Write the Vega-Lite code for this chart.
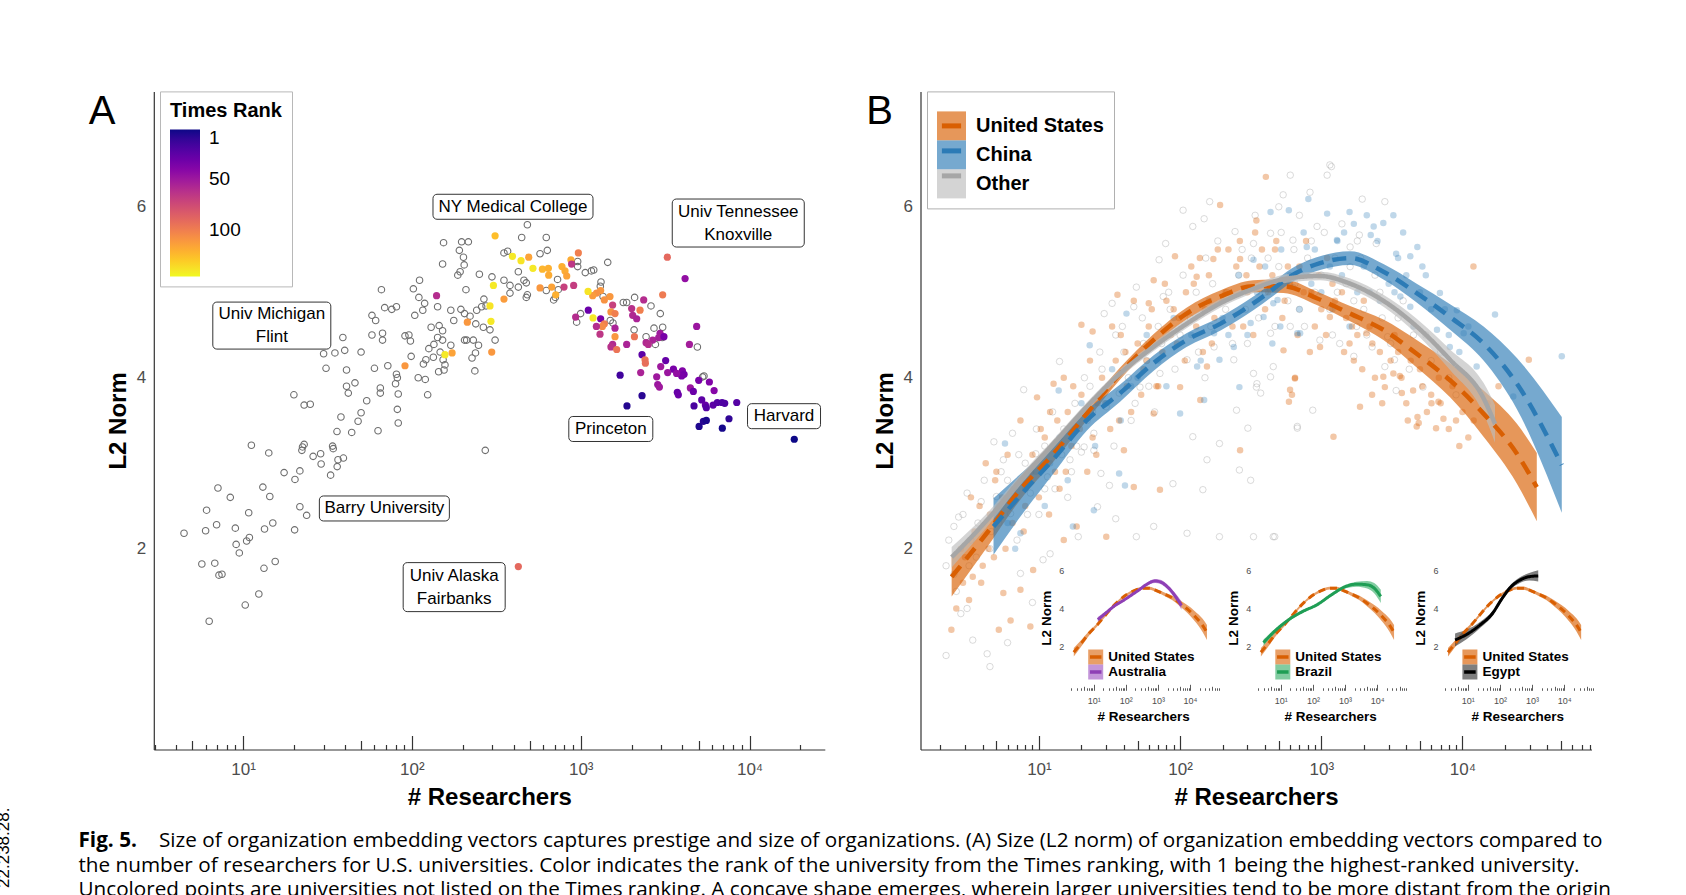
{
"$schema": "https://vega.github.io/schema/vega-lite/v6.json",
"width": 1686, "height": 895, "autosize": "none", "padding": 0, "background": "white",
"config": {"view": {"stroke": null}, "font": "Liberation Sans", "axis": {"grid": false, "labelFont": "Liberation Sans", "titleFont": "Liberation Sans"}, "legend": {"labelFont": "Liberation Sans", "titleFont": "Liberation Sans"}},
"datasets": {
"ptsA": [
{"res":4.47,"l2":2.18},{"res":6.08,"l2":2.45},{"res":6.0,"l2":2.21},{"res":6.97,"l2":2.28},{"res":7.1,"l2":2.71},{"res":8.4,"l2":2.6},{"res":5.7,"l2":1.82},{"res":6.8,"l2":1.83},{"res":7.2,"l2":1.69},{"res":7.5,"l2":1.7},{"res":9.0,"l2":2.24},{"res":9.1,"l2":2.05},{"res":9.5,"l2":1.95},{"res":10.5,"l2":2.09},{"res":10.9,"l2":2.13},{"res":10.8,"l2":2.42},{"res":6.3,"l2":1.15},{"res":10.3,"l2":1.34},{"res":12.4,"l2":1.47},{"res":13.3,"l2":1.77},{"res":15.5,"l2":1.85},{"res":13.1,"l2":2.72},{"res":14.4,"l2":2.61},{"res":13.4,"l2":2.23},{"res":15.0,"l2":2.3},{"res":20.2,"l2":2.22},{"res":21.7,"l2":2.49},{"res":23.8,"l2":2.39},{"res":17.5,"l2":2.89},{"res":20.3,"l2":2.81},{"res":21.7,"l2":2.91},{"res":11.2,"l2":3.21},{"res":14.2,"l2":3.12},{"res":22.3,"l2":3.15},{"res":23,"l2":3.22},{"res":22.5,"l2":3.19},{"res":26,"l2":3.08},{"res":28.8,"l2":3.11},{"res":29,"l2":2.99},{"res":33,"l2":2.86},{"res":34.2,"l2":3.17},{"res":33.9,"l2":3.2},{"res":36.5,"l2":3.04},{"res":39.3,"l2":3.06},{"res":36.1,"l2":2.96},{"res":272,"l2":3.15},
{"res":154,"l2":5.58},{"res":197,"l2":5.59},{"res":216,"l2":5.59},{"res":191,"l2":5.49},{"res":202,"l2":5.41},{"res":204,"l2":5.32},{"res":152,"l2":5.33},{"res":193,"l2":5.24},{"res":187,"l2":5.2},{"res":251,"l2":5.21},{"res":298,"l2":5.18},{"res":111,"l2":5.14},{"res":102,"l2":5.04},{"res":66,"l2":5.03},{"res":110,"l2":4.94},{"res":119,"l2":4.87},{"res":116,"l2":4.79},{"res":142,"l2":4.83},{"res":104,"l2":4.73},{"res":69,"l2":4.82},{"res":76,"l2":4.8},{"res":81,"l2":4.83},{"res":58,"l2":4.73},{"res":61,"l2":4.67},{"res":67,"l2":4.52},{"res":67,"l2":4.44},{"res":58,"l2":4.5},{"res":39,"l2":4.47},{"res":40,"l2":4.32},{"res":35,"l2":4.29},{"res":30,"l2":4.28},{"res":50,"l2":4.3},{"res":91,"l2":4.49},{"res":96,"l2":4.5},{"res":98,"l2":4.43},{"res":170,"l2":4.79},{"res":177,"l2":4.67},{"res":195,"l2":4.8},{"res":209,"l2":5.03},{"res":205,"l2":4.75},{"res":221,"l2":4.72},{"res":242,"l2":4.79},{"res":259,"l2":4.83},{"res":267,"l2":4.92},{"res":275,"l2":4.84},{"res":239,"l2":4.63},{"res":265,"l2":4.59},{"res":290,"l2":4.56},{"res":311,"l2":4.44},{"res":145,"l2":4.61},{"res":130,"l2":4.59},{"res":152,"l2":4.55},{"res":142,"l2":4.47},{"res":135,"l2":4.39},{"res":152,"l2":4.44},{"res":170,"l2":4.38},{"res":205,"l2":4.44},{"res":211,"l2":4.44},{"res":231,"l2":4.44},{"res":248,"l2":4.38},{"res":238,"l2":4.29},{"res":227,"l2":4.23},{"res":126,"l2":4.34},{"res":121,"l2":4.21},{"res":117,"l2":4.16},{"res":134,"l2":4.24},{"res":147,"l2":4.3},{"res":153,"l2":4.21},{"res":157,"l2":4.15},{"res":144,"l2":4.07},{"res":155,"l2":4.09},{"res":236,"l2":4.08},{"res":99,"l2":4.25},{"res":72,"l2":4.14},{"res":60,"l2":4.11},{"res":81,"l2":4.04},{"res":82,"l2":4.0},{"res":80,"l2":3.93},{"res":83,"l2":3.81},{"res":65,"l2":3.82},{"res":65,"l2":3.88},{"res":54,"l2":3.73},{"res":46,"l2":3.94},{"res":41,"l2":4.09},{"res":41,"l2":3.9},{"res":42,"l2":3.82},{"res":31,"l2":4.11},{"res":20,"l2":3.8},{"res":23,"l2":3.68},{"res":25,"l2":3.69},{"res":50,"l2":3.59},{"res":82,"l2":3.63},{"res":109,"l2":4.0},{"res":120,"l2":3.98},{"res":124,"l2":3.8},{"res":38,"l2":3.54},{"res":48,"l2":3.49},{"res":63,"l2":3.38},{"res":83,"l2":3.47},{"res":36,"l2":3.37},{"res":44,"l2":3.36},
{"res":483,"l2":5.79},{"res":447,"l2":5.64},{"res":625,"l2":5.64},{"res":634,"l2":5.49},{"res":574,"l2":5.45},{"res":369,"l2":5.48},{"res":351,"l2":5.46},{"res":959,"l2":5.36},{"res":959,"l2":5.3},{"res":1445,"l2":5.35},{"res":1064,"l2":5.23},{"res":1156,"l2":5.25},{"res":1194,"l2":5.26},{"res":427,"l2":5.24},{"res":729,"l2":5.15},{"res":461,"l2":5.14},{"res":476,"l2":5.11},{"res":427,"l2":5.06},{"res":381,"l2":5.08},{"res":351,"l2":5.14},{"res":1318,"l2":5.12},{"res":1306,"l2":5.07},{"res":625,"l2":5.02},{"res":736,"l2":5.03},{"res":707,"l2":4.94},{"res":691,"l2":4.91},{"res":483,"l2":4.97},{"res":476,"l2":4.94},{"res":381,"l2":4.99},{"res":1356,"l2":4.95},{"res":1787,"l2":4.88},{"res":1871,"l2":4.88},{"res":2085,"l2":4.94},{"res":2607,"l2":4.84},{"res":2960,"l2":4.75},{"res":998,"l2":4.75},{"res":946,"l2":4.65},{"res":1496,"l2":4.67},{"res":1552,"l2":4.64},{"res":2070,"l2":4.56},{"res":2438,"l2":4.48},{"res":2768,"l2":4.39},{"res":2716,"l2":4.58},{"res":3057,"l2":4.59},{"res":3043,"l2":4.47},{"res":4909,"l2":4.36},{"res":5272,"l2":4.01},{"res":5370,"l2":4.02},
{"res":140,"l2":4.96,"rank":60},{"res":213,"l2":4.65,"rank":110},{"res":297,"l2":4.3,"rank":110},{"res":91,"l2":4.14,"rank":110},{"res":311,"l2":5.66,"rank":125},{"res":157,"l2":4.27,"rank":140},{"res":173,"l2":4.29,"rank":115},{"res":290,"l2":4.84,"rank":138},{"res":304,"l2":5.08,"rank":140},{"res":294,"l2":4.66,"rank":140},
{"res":394,"l2":5.42,"rank":140},{"res":443,"l2":5.37,"rank":138},{"res":492,"l2":5.41,"rank":115},{"res":968,"l2":5.46,"rank":100},{"res":875,"l2":5.38,"rank":118},{"res":883,"l2":5.33,"rank":65},{"res":774,"l2":5.3,"rank":120},{"res":807,"l2":5.25,"rank":118},{"res":826,"l2":5.19,"rank":115},{"res":521,"l2":5.28,"rank":140},{"res":593,"l2":5.27,"rank":122},{"res":643,"l2":5.28,"rank":120},{"res":646,"l2":5.2,"rank":118},{"res":1312,"l2":5.02,"rank":110},{"res":1241,"l2":4.99,"rank":108},{"res":1177,"l2":4.96,"rank":112},{"res":796,"l2":5.06,"rank":70},{"res":908,"l2":5.08,"rank":68},{"res":1105,"l2":5.01,"rank":138},{"res":673,"l2":5.06,"rank":115},{"res":574,"l2":5.05,"rank":110},{"res":711,"l2":4.97,"rank":120},{"res":351,"l2":4.92,"rank":112},{"res":1490,"l2":4.95,"rank":110},{"res":1380,"l2":4.91,"rank":108},{"res":1545,"l2":4.85,"rank":70},{"res":2360,"l2":4.91,"rank":60},{"res":3057,"l2":4.97,"rank":98},{"res":3258,"l2":5.41,"rank":90},{"res":4150,"l2":5.16,"rank":45},{"res":2003,"l2":4.81,"rank":62},{"res":2245,"l2":4.79,"rank":100},{"res":2031,"l2":4.73,"rank":58},{"res":2145,"l2":4.69,"rank":55},{"res":1109,"l2":4.79,"rank":30},{"res":933,"l2":4.71,"rank":60},{"res":1183,"l2":4.7,"rank":140},{"res":1312,"l2":4.69,"rank":35},{"res":1380,"l2":4.63,"rank":100},{"res":1343,"l2":4.6,"rank":105},{"res":1238,"l2":4.6,"rank":60},{"res":1301,"l2":4.51,"rank":65},{"res":1510,"l2":4.77,"rank":108},{"res":1596,"l2":4.75,"rank":100},{"res":1596,"l2":4.58,"rank":55},{"res":1596,"l2":4.48,"rank":110},{"res":2080,"l2":4.48,"rank":95},{"res":1871,"l2":4.39,"rank":55},{"res":1545,"l2":4.39,"rank":58},{"res":1510,"l2":4.36,"rank":62},{"res":1633,"l2":4.33,"rank":95},{"res":2438,"l2":4.41,"rank":58},{"res":2669,"l2":4.44,"rank":55},{"res":2513,"l2":4.39,"rank":60},{"res":2950,"l2":4.52,"rank":50},{"res":2897,"l2":4.47,"rank":52},{"res":3110,"l2":4.48,"rank":35},{"res":4860,"l2":4.6,"rank":48},{"res":4404,"l2":4.39,"rank":52},{"res":2307,"l2":4.27,"rank":25},{"res":2404,"l2":4.21,"rank":95},{"res":2415,"l2":4.17,"rank":92},{"res":3184,"l2":4.2,"rank":28},{"res":2977,"l2":4.13,"rank":50},{"res":3540,"l2":4.1,"rank":35},{"res":4000,"l2":4.08,"rank":38},{"res":4093,"l2":4.04,"rank":33},{"res":3963,"l2":4.02,"rank":35},{"res":3273,"l2":4.06,"rank":48},{"res":3698,"l2":4.05,"rank":45},{"res":2265,"l2":4.06,"rank":55},{"res":2818,"l2":4.01,"rank":50},{"res":2858,"l2":3.92,"rank":48},{"res":2924,"l2":3.89,"rank":50},{"res":1711,"l2":4.03,"rank":15},{"res":4460,"l2":3.88,"rank":48},{"res":4645,"l2":3.84,"rank":30},{"res":4999,"l2":3.97,"rank":35},{"res":5781,"l2":3.95,"rank":38},{"res":6166,"l2":3.85,"rank":40},{"res":5207,"l2":3.74,"rank":25},{"res":5474,"l2":3.68,"rank":28},{"res":5545,"l2":3.65,"rank":22},{"res":6081,"l2":3.68,"rank":25},{"res":6442,"l2":3.71,"rank":22},{"res":6871,"l2":3.71,"rank":20},{"res":7123,"l2":3.7,"rank":20},{"res":8395,"l2":3.71,"rank":22},{"res":3733,"l2":3.83,"rank":28},{"res":3785,"l2":3.8,"rank":30},{"res":4688,"l2":3.67,"rank":18},{"res":2307,"l2":3.79,"rank":8},{"res":1879,"l2":3.67,"rank":6},{"res":5025,"l2":3.43,"rank":5},{"res":5325,"l2":3.49,"rank":7},{"res":5545,"l2":3.5,"rank":4},{"res":6897,"l2":3.41,"rank":3},{"res":7553,"l2":3.52,"rank":10},{"res":18400,"l2":3.28,"rank":1},{"res":427,"l2":1.79,"rank":90}
],
"labA": [
{"id":"ny","name":"NY Medical College","res":397,"l2":6.0},
{"id":"ut","name":"Univ Tennessee\nKnoxville","res":8570,"l2":5.81},
{"id":"um","name":"Univ Michigan\nFlint","res":14.8,"l2":4.61},
{"id":"pr","name":"Princeton","res":1507,"l2":3.4},
{"id":"hv","name":"Harvard","res":16000,"l2":3.55},
{"id":"ba","name":"Barry University","res":68.7,"l2":2.47},
{"id":"ua","name":"Univ Alaska\nFairbanks","res":178,"l2":1.55}
],
"ptsB": [
{"res":192,"l2":6.02,"grp":"US"},{"res":266,"l2":5.39,"grp":"US"},{"res":172,"l2":5.39,"grp":"US"},{"res":131,"l2":5.18,"grp":"US"},{"res":92,"l2":5.42,"grp":"US"},{"res":65,"l2":5.14,"grp":"US"},{"res":60,"l2":4.87,"grp":"US"},{"res":36,"l2":4.97,"grp":"US"},{"res":24,"l2":4.54,"grp":"US"},{"res":20,"l2":4.62,"grp":"US"},{"res":15,"l2":4.0,"grp":"US"},{"res":12.7,"l2":3.93,"grp":"US"},{"res":9.7,"l2":3.77,"grp":"US"},{"res":7.4,"l2":3.5,"grp":"US"},{"res":4.2,"l2":3.0,"grp":"US"},{"res":5.0,"l2":2.9,"grp":"US"},{"res":2.4,"l2":1.05,"grp":"US"},{"res":3.4,"l2":1.67,"grp":"US"},{"res":5.6,"l2":1.48,"grp":"US"},{"res":7.4,"l2":1.52,"grp":"US"},{"res":9.1,"l2":1.75,"grp":"US"},{"res":6.3,"l2":1.16,"grp":"US"},{"res":8.7,"l2":1.09,"grp":"US"},{"res":15,"l2":2.1,"grp":"US"},{"res":18.5,"l2":2.26,"grp":"US"},{"res":30,"l2":2.14,"grp":"US"},{"res":72,"l2":2.69,"grp":"US"},{"res":47,"l2":2.72,"grp":"US"},{"res":40,"l2":3.15,"grp":"US"},{"res":65,"l2":3.58,"grp":"US"},{"res":100,"l2":3.89,"grp":"US"},{"res":139,"l2":3.74,"grp":"US"},{"res":155,"l2":4.13,"grp":"US"},{"res":266,"l2":3.15,"grp":"US"},{"res":601,"l2":3.86,"grp":"US"},{"res":652,"l2":4.0,"grp":"US"},{"res":540,"l2":4.32,"grp":"US"},{"res":980,"l2":4.36,"grp":"US"},{"res":1150,"l2":4.71,"grp":"US"},{"res":1220,"l2":3.31,"grp":"US"},
{"res":405,"l2":6.35,"grp":"US"},{"res":11960,"l2":5.3,"grp":"US"},{"res":29500,"l2":4.21,"grp":"US"},{"res":1880,"l2":3.66,"grp":"US"},{"res":2290,"l2":3.8,"grp":"US"},{"res":4740,"l2":3.43,"grp":"US"},{"res":4900,"l2":3.47,"grp":"US"},{"res":4800,"l2":3.54,"grp":"US"},{"res":6030,"l2":3.7,"grp":"US"},{"res":6760,"l2":3.72,"grp":"US"},{"res":7330,"l2":3.52,"grp":"US"},{"res":6500,"l2":3.41,"grp":"US"},{"res":2820,"l2":3.89,"grp":"US"},{"res":3720,"l2":3.82,"grp":"US"},{"res":4470,"l2":3.85,"grp":"US"},{"res":3240,"l2":4.05,"grp":"US"},{"res":3600,"l2":4.02,"grp":"US"},{"res":2750,"l2":4.01,"grp":"US"},{"res":1585,"l2":4.4,"grp":"US"},{"res":2090,"l2":4.52,"grp":"US"},{"res":650,"l2":3.99,"grp":"US"},{"res":620,"l2":3.8,"grp":"US"},{"res":590,"l2":3.72,"grp":"US"},{"res":347,"l2":5.84,"grp":"US"},
{"res":3.0,"l2":1.9,"grp":"US"},{"res":3.5,"l2":2.2,"grp":"US"},{"res":4.0,"l2":1.8,"grp":"US"},{"res":4.5,"l2":2.4,"grp":"US"},{"res":5.5,"l2":2.6,"grp":"US"},{"res":6.5,"l2":2.3,"grp":"US"},{"res":7.5,"l2":2.8,"grp":"US"},{"res":9,"l2":3.1,"grp":"US"},{"res":11,"l2":3.3,"grp":"US"},{"res":13,"l2":2.9,"grp":"US"},{"res":16,"l2":3.6,"grp":"US"},{"res":20,"l2":3.8,"grp":"US"},{"res":24,"l2":3.3,"grp":"US"},{"res":28,"l2":4.0,"grp":"US"},{"res":35,"l2":4.2,"grp":"US"},{"res":42,"l2":3.9,"grp":"US"},{"res":50,"l2":4.4,"grp":"US"},{"res":60,"l2":4.6,"grp":"US"},{"res":75,"l2":4.3,"grp":"US"},{"res":90,"l2":4.8,"grp":"US"},{"res":110,"l2":5.0,"grp":"US"},{"res":130,"l2":4.6,"grp":"US"},{"res":160,"l2":5.2,"grp":"US"},{"res":200,"l2":4.9,"grp":"US"},{"res":250,"l2":5.3,"grp":"US"},{"res":300,"l2":5.0,"grp":"US"},{"res":380,"l2":5.5,"grp":"US"},{"res":450,"l2":5.2,"grp":"US"},{"res":550,"l2":4.9,"grp":"US"},{"res":700,"l2":5.3,"grp":"US"},{"res":850,"l2":5.0,"grp":"US"},{"res":1000,"l2":4.8,"grp":"US"},{"res":1200,"l2":5.1,"grp":"US"},{"res":1500,"l2":4.7,"grp":"US"},{"res":1800,"l2":4.5,"grp":"US"},{"res":2200,"l2":4.6,"grp":"US"},{"res":2600,"l2":4.3,"grp":"US"},{"res":3100,"l2":4.2,"grp":"US"},{"res":3700,"l2":4.0,"grp":"US"},{"res":4300,"l2":4.2,"grp":"US"},{"res":5200,"l2":3.9,"grp":"US"},{"res":6000,"l2":3.8,"grp":"US"},{"res":7000,"l2":3.7,"grp":"US"},{"res":8500,"l2":3.9,"grp":"US"},{"res":10000,"l2":3.6,"grp":"US"},{"res":12000,"l2":3.5,"grp":"US"},
{"res":2.8,"l2":2.0,"grp":"US"},{"res":3.2,"l2":1.4,"grp":"US"},{"res":3.8,"l2":2.5,"grp":"US"},{"res":4.8,"l2":1.9,"grp":"US"},{"res":6,"l2":3.1,"grp":"US"},{"res":8,"l2":2.5,"grp":"US"},{"res":10,"l2":2.6,"grp":"US"},{"res":12,"l2":3.6,"grp":"US"},{"res":14,"l2":2.7,"grp":"US"},{"res":17,"l2":3.2,"grp":"US"},{"res":22,"l2":2.9,"grp":"US"},{"res":26,"l2":3.7,"grp":"US"},{"res":32,"l2":3.4,"grp":"US"},{"res":38,"l2":4.5,"grp":"US"},{"res":45,"l2":3.6,"grp":"US"},{"res":55,"l2":4.1,"grp":"US"},{"res":68,"l2":3.9,"grp":"US"},{"res":80,"l2":4.9,"grp":"US"},{"res":95,"l2":4.4,"grp":"US"},{"res":120,"l2":5.3,"grp":"US"},{"res":145,"l2":4.3,"grp":"US"},{"res":175,"l2":4.7,"grp":"US"},{"res":220,"l2":5.5,"grp":"US"},{"res":280,"l2":4.6,"grp":"US"},{"res":340,"l2":5.7,"grp":"US"},{"res":400,"l2":4.8,"grp":"US"},{"res":480,"l2":5.6,"grp":"US"},{"res":600,"l2":5.1,"grp":"US"},{"res":780,"l2":5.6,"grp":"US"},{"res":900,"l2":4.6,"grp":"US"},{"res":1100,"l2":5.4,"grp":"US"},{"res":1400,"l2":5.0,"grp":"US"},{"res":1700,"l2":4.2,"grp":"US"},{"res":2000,"l2":4.9,"grp":"US"},{"res":2400,"l2":4.0,"grp":"US"},{"res":3300,"l2":4.5,"grp":"US"},{"res":4000,"l2":3.7,"grp":"US"},{"res":5000,"l2":4.1,"grp":"US"},{"res":8000,"l2":3.4,"grp":"US"},{"res":9500,"l2":3.2,"grp":"US"},{"res":15000,"l2":3.7,"grp":"US"},{"res":18000,"l2":3.9,"grp":"US"},{"res":5.2,"l2":1.05,"grp":"US"},
{"res":2.6,"l2":1.3,"grp":"US"},{"res":2.9,"l2":1.6,"grp":"US"},{"res":3.3,"l2":2.6,"grp":"US"},{"res":3.9,"l2":1.6,"grp":"US"},{"res":4.4,"l2":2.0,"grp":"US"},{"res":4.9,"l2":2.8,"grp":"US"},{"res":5.8,"l2":2.0,"grp":"US"},{"res":6.6,"l2":2.7,"grp":"US"},{"res":7.8,"l2":2.2,"grp":"US"},{"res":8.8,"l2":2.9,"grp":"US"},{"res":10.3,"l2":3.4,"grp":"US"},{"res":11.8,"l2":2.4,"grp":"US"},{"res":13.5,"l2":3.5,"grp":"US"},{"res":15.5,"l2":2.9,"grp":"US"},{"res":17.5,"l2":3.9,"grp":"US"},{"res":19.5,"l2":3.4,"grp":"US"},{"res":23,"l2":4.2,"grp":"US"},{"res":25.5,"l2":3.1,"grp":"US"},{"res":29.5,"l2":3.7,"grp":"US"},{"res":33,"l2":4.6,"grp":"US"},{"res":37,"l2":3.5,"grp":"US"},{"res":41,"l2":4.3,"grp":"US"},{"res":47,"l2":4.9,"grp":"US"},{"res":53,"l2":3.8,"grp":"US"},{"res":58,"l2":4.2,"grp":"US"},{"res":63,"l2":4.8,"grp":"US"},{"res":70,"l2":3.9,"grp":"US"},{"res":78,"l2":5.1,"grp":"US"},{"res":86,"l2":4.5,"grp":"US"},{"res":98,"l2":4.7,"grp":"US"},{"res":108,"l2":4.2,"grp":"US"},{"res":125,"l2":5.1,"grp":"US"},{"res":138,"l2":5.4,"grp":"US"},{"res":150,"l2":4.8,"grp":"US"},{"res":168,"l2":4.4,"grp":"US"},{"res":185,"l2":5.5,"grp":"US"},{"res":210,"l2":5.0,"grp":"US"},{"res":235,"l2":4.6,"grp":"US"},{"res":265,"l2":5.6,"grp":"US"},{"res":295,"l2":5.2,"grp":"US"},{"res":330,"l2":4.5,"grp":"US"},{"res":365,"l2":5.3,"grp":"US"},{"res":420,"l2":5.0,"grp":"US"},{"res":470,"l2":5.5,"grp":"US"},{"res":530,"l2":4.7,"grp":"US"},{"res":580,"l2":5.3,"grp":"US"},{"res":680,"l2":4.5,"grp":"US"},{"res":750,"l2":5.0,"grp":"US"},{"res":830,"l2":4.3,"grp":"US"},{"res":960,"l2":5.2,"grp":"US"},{"res":1080,"l2":4.5,"grp":"US"},{"res":1250,"l2":4.9,"grp":"US"},{"res":1450,"l2":4.3,"grp":"US"},{"res":1650,"l2":4.6,"grp":"US"},{"res":1950,"l2":4.1,"grp":"US"},{"res":2300,"l2":4.4,"grp":"US"},{"res":2700,"l2":3.7,"grp":"US"},{"res":3500,"l2":4.3,"grp":"US"},{"res":4100,"l2":3.5,"grp":"US"},{"res":5600,"l2":3.6,"grp":"US"},{"res":6800,"l2":4.0,"grp":"US"},{"res":9000,"l2":3.5,"grp":"US"},{"res":11000,"l2":3.3,"grp":"US"},
{"res":789,"l2":5.53,"grp":"CN"},{"res":589,"l2":5.96,"grp":"CN"},{"res":437,"l2":5.94,"grp":"CN"},{"res":331,"l2":5.38,"grp":"CN"},{"res":457,"l2":4.87,"grp":"CN"},{"res":513,"l2":4.6,"grp":"CN"},{"res":676,"l2":4.52,"grp":"CN"},{"res":263,"l2":3.89,"grp":"CN"},{"res":132,"l2":4.13,"grp":"CN"},{"res":148,"l2":3.74,"grp":"CN"},{"res":100,"l2":3.58,"grp":"CN"},{"res":41.7,"l2":4.75,"grp":"CN"},{"res":22.9,"l2":4.38,"grp":"CN"},{"res":13.8,"l2":3.85,"grp":"CN"},{"res":37,"l2":2.88,"grp":"CN"},{"res":40.7,"l2":2.74,"grp":"CN"},{"res":24.5,"l2":2.45,"grp":"CN"},{"res":17.4,"l2":2.26,"grp":"CN"},{"res":7.4,"l2":2.18,"grp":"CN"},{"res":5.75,"l2":3.23,"grp":"CN"},{"res":190,"l2":4.21,"grp":"CN"},{"res":240,"l2":4.36,"grp":"CN"},{"res":316,"l2":4.64,"grp":"CN"},{"res":174,"l2":4.52,"grp":"CN"},
{"res":50500,"l2":4.25,"grp":"CN"},{"res":17000,"l2":4.74,"grp":"CN"},{"res":810,"l2":6.09,"grp":"CN"},{"res":3240,"l2":5.9,"grp":"CN"},{"res":4790,"l2":5.53,"grp":"CN"},{"res":4270,"l2":5.42,"grp":"CN"},{"res":3390,"l2":5.45,"grp":"CN"},{"res":2750,"l2":5.81,"grp":"CN"},{"res":2240,"l2":5.67,"grp":"CN"},{"res":2350,"l2":5.77,"grp":"CN"},{"res":1290,"l2":5.61,"grp":"CN"},{"res":1585,"l2":5.94,"grp":"CN"},{"res":1100,"l2":5.92,"grp":"CN"},{"res":6920,"l2":4.99,"grp":"CN"},{"res":9120,"l2":4.79,"grp":"CN"},{"res":10200,"l2":4.52,"grp":"CN"},{"res":12600,"l2":4.13,"grp":"CN"},{"res":22900,"l2":3.78,"grp":"CN"},{"res":4270,"l2":4.83,"grp":"CN"},{"res":3630,"l2":4.95,"grp":"CN"},{"res":6600,"l2":4.56,"grp":"CN"},{"res":8130,"l2":4.36,"grp":"CN"},{"res":1585,"l2":4.6,"grp":"CN"},{"res":708,"l2":4.52,"grp":"CN"},{"res":490,"l2":4.91,"grp":"CN"},{"res":390,"l2":4.71,"grp":"CN"},{"res":630,"l2":5.06,"grp":"CN"},
{"res":6,"l2":2.3,"grp":"CN"},{"res":8,"l2":2.7,"grp":"CN"},{"res":12,"l2":3.0,"grp":"CN"},{"res":18,"l2":3.4,"grp":"CN"},{"res":30,"l2":3.7,"grp":"CN"},{"res":45,"l2":3.9,"grp":"CN"},{"res":70,"l2":4.2,"grp":"CN"},{"res":120,"l2":4.5,"grp":"CN"},{"res":200,"l2":4.7,"grp":"CN"},{"res":350,"l2":5.0,"grp":"CN"},{"res":600,"l2":5.2,"grp":"CN"},{"res":900,"l2":5.5,"grp":"CN"},{"res":1300,"l2":5.6,"grp":"CN"},{"res":2000,"l2":5.3,"grp":"CN"},{"res":1700,"l2":5.8,"grp":"CN"},{"res":2500,"l2":5.6,"grp":"CN"},{"res":3000,"l2":5.1,"grp":"CN"},{"res":3500,"l2":5.4,"grp":"CN"},{"res":5000,"l2":5.0,"grp":"CN"},{"res":6000,"l2":4.8,"grp":"CN"},{"res":8000,"l2":4.5,"grp":"CN"},{"res":1000,"l2":5.0,"grp":"CN"},{"res":1400,"l2":5.2,"grp":"CN"},{"res":2200,"l2":5.0,"grp":"CN"},{"res":4000,"l2":5.2,"grp":"CN"},{"res":5500,"l2":5.2,"grp":"CN"},
{"res":5.2,"l2":2.5,"grp":"CN"},{"res":6.8,"l2":2.0,"grp":"CN"},{"res":9.5,"l2":2.9,"grp":"CN"},{"res":11,"l2":2.5,"grp":"CN"},{"res":14,"l2":3.3,"grp":"CN"},{"res":16,"l2":2.8,"grp":"CN"},{"res":20,"l2":3.7,"grp":"CN"},{"res":25,"l2":3.2,"grp":"CN"},{"res":33,"l2":4.1,"grp":"CN"},{"res":38,"l2":3.5,"grp":"CN"},{"res":50,"l2":4.0,"grp":"CN"},{"res":58,"l2":4.5,"grp":"CN"},{"res":80,"l2":3.9,"grp":"CN"},{"res":90,"l2":4.7,"grp":"CN"},{"res":140,"l2":4.2,"grp":"CN"},{"res":160,"l2":4.9,"grp":"CN"},{"res":220,"l2":4.5,"grp":"CN"},{"res":260,"l2":5.2,"grp":"CN"},{"res":300,"l2":4.5,"grp":"CN"},{"res":400,"l2":5.3,"grp":"CN"},{"res":450,"l2":4.4,"grp":"CN"},{"res":520,"l2":5.5,"grp":"CN"},{"res":700,"l2":4.8,"grp":"CN"},{"res":750,"l2":5.7,"grp":"CN"},{"res":850,"l2":5.1,"grp":"CN"},{"res":1150,"l2":5.3,"grp":"CN"},{"res":1200,"l2":4.8,"grp":"CN"},{"res":1450,"l2":5.7,"grp":"CN"},{"res":1800,"l2":5.0,"grp":"CN"},{"res":2100,"l2":5.9,"grp":"CN"},{"res":2600,"l2":4.9,"grp":"CN"},{"res":3300,"l2":5.0,"grp":"CN"},{"res":3800,"l2":5.7,"grp":"CN"},{"res":4500,"l2":4.6,"grp":"CN"},{"res":5200,"l2":5.3,"grp":"CN"},{"res":7500,"l2":4.8,"grp":"CN"},{"res":9500,"l2":4.3,"grp":"CN"},{"res":11000,"l2":4.6,"grp":"CN"},
{"res":162,"l2":6.06,"grp":"OT"},{"res":105,"l2":5.96,"grp":"OT"},{"res":148,"l2":5.86,"grp":"OT"},{"res":245,"l2":5.71,"grp":"OT"},{"res":331,"l2":5.57,"grp":"OT"},{"res":79,"l2":5.57,"grp":"OT"},{"res":123,"l2":5.77,"grp":"OT"},{"res":71,"l2":5.38,"grp":"OT"},{"res":49,"l2":5.06,"grp":"OT"},{"res":47,"l2":4.83,"grp":"OT"},{"res":35,"l2":4.5,"grp":"OT"},{"res":33,"l2":4.87,"grp":"OT"},{"res":29,"l2":4.75,"grp":"OT"},{"res":14,"l2":4.19,"grp":"OT"},{"res":7.8,"l2":3.86,"grp":"OT"},{"res":6.5,"l2":3.35,"grp":"OT"},{"res":4.8,"l2":3.25,"grp":"OT"},{"res":3.1,"l2":2.65,"grp":"OT"},{"res":2.5,"l2":2.26,"grp":"OT"},{"res":2.7,"l2":2.37,"grp":"OT"},{"res":3.9,"l2":2.55,"grp":"OT"},{"res":2.8,"l2":1.24,"grp":"OT"},{"res":3.1,"l2":1.3,"grp":"OT"},{"res":4.3,"l2":0.77,"grp":"OT"},{"res":7.4,"l2":1.71,"grp":"OT"},{"res":10.7,"l2":1.87,"grp":"OT"},{"res":12,"l2":1.94,"grp":"OT"},{"res":19,"l2":2.14,"grp":"OT"},{"res":26,"l2":2.49,"grp":"OT"},{"res":35,"l2":2.35,"grp":"OT"},{"res":49,"l2":2.14,"grp":"OT"},{"res":65,"l2":2.26,"grp":"OT"},{"res":89,"l2":2.76,"grp":"OT"},{"res":112,"l2":2.18,"grp":"OT"},{"res":145,"l2":2.69,"grp":"OT"},{"res":190,"l2":2.14,"grp":"OT"},{"res":263,"l2":2.92,"grp":"OT"},{"res":331,"l2":2.14,"grp":"OT"},{"res":155,"l2":3.04,"grp":"OT"},{"res":123,"l2":3.31,"grp":"OT"},{"res":190,"l2":3.23,"grp":"OT"},{"res":251,"l2":3.62,"grp":"OT"},{"res":457,"l2":2.14,"grp":"OT"},{"res":302,"l2":3.41,"grp":"OT"},{"res":870,"l2":3.62,"grp":"OT"},{"res":676,"l2":3.43,"grp":"OT"},{"res":372,"l2":3.82,"grp":"OT"},{"res":331,"l2":4.05,"grp":"OT"},{"res":350,"l2":3.93,"grp":"OT"},{"res":457,"l2":4.13,"grp":"OT"},{"res":603,"l2":4.6,"grp":"OT"},{"res":977,"l2":4.44,"grp":"OT"},{"res":437,"l2":4.52,"grp":"OT"},{"res":174,"l2":4.36,"grp":"OT"},{"res":240,"l2":4.21,"grp":"OT"},{"res":112,"l2":4.21,"grp":"OT"},{"res":72,"l2":4.05,"grp":"OT"},{"res":52,"l2":3.89,"grp":"OT"},{"res":37,"l2":3.82,"grp":"OT"},{"res":30,"l2":3.66,"grp":"OT"},{"res":24.5,"l2":3.35,"grp":"OT"},{"res":20.9,"l2":3.19,"grp":"OT"},{"res":16.6,"l2":3.04,"grp":"OT"},{"res":11.5,"l2":2.84,"grp":"OT"},{"res":8.7,"l2":2.65,"grp":"OT"},{"res":6.3,"l2":2.41,"grp":"OT"},{"res":5.0,"l2":2.61,"grp":"OT"},{"res":5.6,"l2":3.04,"grp":"OT"},{"res":9.5,"l2":3.11,"grp":"OT"},{"res":27.5,"l2":2.88,"grp":"OT"},{"res":31.6,"l2":2.74,"grp":"OT"},{"res":20,"l2":3.13,"grp":"OT"},{"res":24.5,"l2":3.15,"grp":"OT"},{"res":76,"l2":4.95,"grp":"OT"},
{"res":603,"l2":6.37,"grp":"OT"},{"res":1100,"l2":6.37,"grp":"OT"},{"res":1150,"l2":6.49,"grp":"OT"},{"res":1180,"l2":6.47,"grp":"OT"},{"res":832,"l2":6.17,"grp":"OT"},{"res":537,"l2":6.14,"grp":"OT"},{"res":1950,"l2":6.09,"grp":"OT"},{"res":2820,"l2":6.06,"grp":"OT"},{"res":1860,"l2":5.67,"grp":"OT"},{"res":1600,"l2":5.53,"grp":"OT"},{"res":2450,"l2":5.57,"grp":"OT"},{"res":933,"l2":5.77,"grp":"OT"},{"res":437,"l2":5.69,"grp":"OT"},{"res":630,"l2":5.61,"grp":"OT"},{"res":676,"l2":3.41,"grp":"OT"},{"res":468,"l2":2.14,"grp":"OT"},{"res":316,"l2":2.8,"grp":"OT"},{"res":347,"l2":3.89,"grp":"OT"},{"res":437,"l2":4.01,"grp":"OT"},{"res":1700,"l2":4.25,"grp":"OT"},{"res":3390,"l2":3.85,"grp":"OT"},{"res":5250,"l2":3.89,"grp":"OT"},{"res":2820,"l2":4.13,"grp":"OT"},{"res":2290,"l2":4.36,"grp":"OT"},{"res":1780,"l2":4.6,"grp":"OT"},{"res":2950,"l2":4.48,"grp":"OT"},{"res":3300,"l2":4.21,"grp":"OT"},
{"res":2.2,"l2":1.8,"grp":"OT"},{"res":3.3,"l2":2.1,"grp":"OT"},{"res":4.5,"l2":2.0,"grp":"OT"},{"res":6,"l2":2.8,"grp":"OT"},{"res":8,"l2":3.0,"grp":"OT"},{"res":11,"l2":3.2,"grp":"OT"},{"res":15,"l2":3.4,"grp":"OT"},{"res":18,"l2":3.7,"grp":"OT"},{"res":23,"l2":3.9,"grp":"OT"},{"res":28,"l2":4.1,"grp":"OT"},{"res":40,"l2":4.3,"grp":"OT"},{"res":55,"l2":4.4,"grp":"OT"},{"res":70,"l2":4.6,"grp":"OT"},{"res":85,"l2":4.8,"grp":"OT"},{"res":100,"l2":4.5,"grp":"OT"},{"res":130,"l2":5.0,"grp":"OT"},{"res":170,"l2":5.1,"grp":"OT"},{"res":210,"l2":4.8,"grp":"OT"},{"res":260,"l2":5.2,"grp":"OT"},{"res":320,"l2":5.4,"grp":"OT"},{"res":400,"l2":5.0,"grp":"OT"},{"res":500,"l2":5.3,"grp":"OT"},{"res":650,"l2":5.1,"grp":"OT"},{"res":800,"l2":5.4,"grp":"OT"},{"res":1000,"l2":5.2,"grp":"OT"},{"res":1300,"l2":5.0,"grp":"OT"},{"res":1600,"l2":5.3,"grp":"OT"},{"res":2000,"l2":4.8,"grp":"OT"},{"res":2600,"l2":5.0,"grp":"OT"},{"res":3500,"l2":4.7,"grp":"OT"},{"res":4500,"l2":4.5,"grp":"OT"},{"res":6000,"l2":4.2,"grp":"OT"},{"res":8000,"l2":4.0,"grp":"OT"},{"res":2.6,"l2":1.5,"grp":"OT"},{"res":3.6,"l2":1.9,"grp":"OT"},{"res":5.2,"l2":2.3,"grp":"OT"},{"res":7,"l2":2.1,"grp":"OT"},{"res":10,"l2":2.4,"grp":"OT"},{"res":13,"l2":2.7,"grp":"OT"},{"res":17,"l2":2.9,"grp":"OT"},{"res":22,"l2":3.5,"grp":"OT"},{"res":45,"l2":3.5,"grp":"OT"},{"res":60,"l2":3.9,"grp":"OT"},{"res":150,"l2":4.0,"grp":"OT"},{"res":300,"l2":4.4,"grp":"OT"},{"res":700,"l2":4.8,"grp":"OT"},{"res":1200,"l2":4.5,"grp":"OT"},{"res":1800,"l2":5.6,"grp":"OT"},{"res":1400,"l2":5.8,"grp":"OT"},{"res":700,"l2":5.9,"grp":"OT"},{"res":500,"l2":6.0,"grp":"OT"},{"res":2.2,"l2":0.75,"grp":"OT"},{"res":3.4,"l2":0.93,"grp":"OT"},{"res":4.5,"l2":0.62,"grp":"OT"},{"res":9,"l2":1.37,"grp":"OT"},{"res":6,"l2":0.9,"grp":"OT"},
{"res":2.3,"l2":2.1,"grp":"OT"},{"res":2.5,"l2":1.7,"grp":"OT"},{"res":2.9,"l2":2.4,"grp":"OT"},{"res":3.2,"l2":1.8,"grp":"OT"},{"res":3.7,"l2":2.3,"grp":"OT"},{"res":4.1,"l2":2.8,"grp":"OT"},{"res":4.6,"l2":2.2,"grp":"OT"},{"res":5.4,"l2":2.9,"grp":"OT"},{"res":6.2,"l2":2.6,"grp":"OT"},{"res":7.2,"l2":3.1,"grp":"OT"},{"res":8.3,"l2":2.4,"grp":"OT"},{"res":9.6,"l2":3.4,"grp":"OT"},{"res":11,"l2":2.7,"grp":"OT"},{"res":12.5,"l2":3.6,"grp":"OT"},{"res":14.5,"l2":3.1,"grp":"OT"},{"res":16,"l2":2.6,"grp":"OT"},{"res":18.5,"l2":3.2,"grp":"OT"},{"res":21,"l2":4.0,"grp":"OT"},{"res":24,"l2":3.6,"grp":"OT"},{"res":27,"l2":4.3,"grp":"OT"},{"res":31,"l2":3.9,"grp":"OT"},{"res":34,"l2":3.2,"grp":"OT"},{"res":39,"l2":4.6,"grp":"OT"},{"res":43,"l2":4.0,"grp":"OT"},{"res":48,"l2":3.7,"grp":"OT"},{"res":54,"l2":4.7,"grp":"OT"},{"res":58,"l2":4.2,"grp":"OT"},{"res":66,"l2":3.6,"grp":"OT"},{"res":74,"l2":4.4,"grp":"OT"},{"res":83,"l2":5.0,"grp":"OT"},{"res":92,"l2":4.1,"grp":"OT"},{"res":105,"l2":5.2,"grp":"OT"},{"res":118,"l2":4.7,"grp":"OT"},{"res":135,"l2":4.3,"grp":"OT"},{"res":152,"l2":5.4,"grp":"OT"},{"res":165,"l2":4.6,"grp":"OT"},{"res":185,"l2":5.6,"grp":"OT"},{"res":215,"l2":5.0,"grp":"OT"},{"res":235,"l2":4.4,"grp":"OT"},{"res":275,"l2":5.5,"grp":"OT"},{"res":290,"l2":4.8,"grp":"OT"},{"res":340,"l2":5.9,"grp":"OT"},{"res":360,"l2":4.7,"grp":"OT"},{"res":420,"l2":5.4,"grp":"OT"},{"res":470,"l2":4.6,"grp":"OT"},{"res":520,"l2":5.7,"grp":"OT"},{"res":580,"l2":4.9,"grp":"OT"},{"res":640,"l2":5.5,"grp":"OT"},{"res":720,"l2":5.2,"grp":"OT"},{"res":760,"l2":4.6,"grp":"OT"},{"res":850,"l2":5.6,"grp":"OT"},{"res":900,"l2":5.0,"grp":"OT"},{"res":1050,"l2":5.7,"grp":"OT"},{"res":1150,"l2":4.8,"grp":"OT"},{"res":1250,"l2":5.4,"grp":"OT"},{"res":1350,"l2":4.4,"grp":"OT"},{"res":1500,"l2":5.1,"grp":"OT"},{"res":1700,"l2":4.9,"grp":"OT"},{"res":1900,"l2":5.4,"grp":"OT"},{"res":2100,"l2":4.5,"grp":"OT"},{"res":2400,"l2":5.2,"grp":"OT"},{"res":2700,"l2":4.7,"grp":"OT"},{"res":3100,"l2":4.4,"grp":"OT"},{"res":3800,"l2":4.9,"grp":"OT"},{"res":4200,"l2":4.1,"grp":"OT"},{"res":5500,"l2":4.5,"grp":"OT"},{"res":7000,"l2":4.3,"grp":"OT"},{"res":9000,"l2":3.8,"grp":"OT"}
],
"curves": [
{"grp":"United States","res":2.41,"l2":1.67,"lo":1.44,"hi":1.9},{"grp":"United States","res":4.27,"l2":2.18,"lo":2.01,"hi":2.35},{"grp":"United States","res":7.36,"l2":2.69,"lo":2.57,"hi":2.81},{"grp":"United States","res":12.7,"l2":3.11,"lo":3.02,"hi":3.2},{"grp":"United States","res":21.8,"l2":3.58,"lo":3.5,"hi":3.66},{"grp":"United States","res":37.6,"l2":4.05,"lo":3.98,"hi":4.12},{"grp":"United States","res":64.7,"l2":4.44,"lo":4.37,"hi":4.51},{"grp":"United States","res":111,"l2":4.75,"lo":4.68,"hi":4.82},{"grp":"United States","res":192,"l2":4.95,"lo":4.88,"hi":5.02},{"grp":"United States","res":330,"l2":5.07,"lo":5.0,"hi":5.14},{"grp":"United States","res":540,"l2":5.07,"lo":4.99,"hi":5.15},{"grp":"United States","res":929,"l2":4.93,"lo":4.85,"hi":5.01},{"grp":"United States","res":1600,"l2":4.75,"lo":4.66,"hi":4.84},{"grp":"United States","res":2755,"l2":4.56,"lo":4.44,"hi":4.68},{"grp":"United States","res":4740,"l2":4.28,"lo":4.12,"hi":4.44},{"grp":"United States","res":8170,"l2":3.97,"lo":3.77,"hi":4.17},{"grp":"United States","res":14100,"l2":3.58,"lo":3.31,"hi":3.85},{"grp":"United States","res":24300,"l2":3.11,"lo":2.76,"hi":3.46},{"grp":"United States","res":33600,"l2":2.72,"lo":2.32,"hi":3.12},
{"grp":"China","res":4.77,"l2":2.26,"lo":1.93,"hi":2.59},{"grp":"China","res":7.36,"l2":2.62,"lo":2.37,"hi":2.87},{"grp":"China","res":12.7,"l2":3.05,"lo":2.88,"hi":3.22},{"grp":"China","res":21.8,"l2":3.5,"lo":3.38,"hi":3.62},{"grp":"China","res":37.6,"l2":3.82,"lo":3.72,"hi":3.92},{"grp":"China","res":64.7,"l2":4.17,"lo":4.08,"hi":4.26},{"grp":"China","res":111,"l2":4.44,"lo":4.36,"hi":4.52},{"grp":"China","res":192,"l2":4.63,"lo":4.55,"hi":4.71},{"grp":"China","res":330,"l2":4.87,"lo":4.79,"hi":4.95},{"grp":"China","res":458,"l2":5.04,"lo":4.96,"hi":5.12},{"grp":"China","res":569,"l2":5.16,"lo":5.08,"hi":5.24},{"grp":"China","res":980,"l2":5.34,"lo":5.26,"hi":5.42},{"grp":"China","res":1600,"l2":5.4,"lo":5.32,"hi":5.48},{"grp":"China","res":2755,"l2":5.24,"lo":5.15,"hi":5.33},{"grp":"China","res":4740,"l2":4.99,"lo":4.88,"hi":5.1},{"grp":"China","res":8170,"l2":4.71,"lo":4.56,"hi":4.86},{"grp":"China","res":14100,"l2":4.4,"lo":4.2,"hi":4.6},{"grp":"China","res":24300,"l2":3.93,"lo":3.63,"hi":4.23},{"grp":"China","res":50500,"l2":2.98,"lo":2.42,"hi":3.54},
{"grp":"Other","res":2.41,"l2":1.9,"lo":1.78,"hi":2.02},{"grp":"Other","res":4.27,"l2":2.33,"lo":2.25,"hi":2.41},{"grp":"Other","res":7.36,"l2":2.8,"lo":2.74,"hi":2.86},{"grp":"Other","res":12.7,"l2":3.23,"lo":3.18,"hi":3.28},{"grp":"Other","res":21.8,"l2":3.66,"lo":3.61,"hi":3.71},{"grp":"Other","res":37.6,"l2":4.05,"lo":4.0,"hi":4.1},{"grp":"Other","res":64.7,"l2":4.36,"lo":4.31,"hi":4.41},{"grp":"Other","res":111,"l2":4.63,"lo":4.58,"hi":4.68},{"grp":"Other","res":192,"l2":4.87,"lo":4.82,"hi":4.92},{"grp":"Other","res":330,"l2":5.04,"lo":4.99,"hi":5.09},{"grp":"Other","res":569,"l2":5.16,"lo":5.11,"hi":5.21},{"grp":"Other","res":980,"l2":5.19,"lo":5.14,"hi":5.24},{"grp":"Other","res":1600,"l2":5.1,"lo":5.04,"hi":5.16},{"grp":"Other","res":2755,"l2":4.9,"lo":4.83,"hi":4.97},{"grp":"Other","res":4740,"l2":4.6,"lo":4.51,"hi":4.69},{"grp":"Other","res":8170,"l2":4.21,"lo":4.09,"hi":4.33},{"grp":"Other","res":14100,"l2":3.76,"lo":3.58,"hi":3.94},{"grp":"Other","res":17000,"l2":3.46,"lo":3.24,"hi":3.68},
{"grp":"Australia","res":13.5,"l2":3.4,"lo":3.26,"hi":3.54},{"grp":"Australia","res":25,"l2":3.78,"lo":3.69,"hi":3.87},{"grp":"Australia","res":43,"l2":4.11,"lo":4.03,"hi":4.19},{"grp":"Australia","res":90,"l2":4.45,"lo":4.38,"hi":4.52},{"grp":"Australia","res":155,"l2":4.72,"lo":4.65,"hi":4.79},{"grp":"Australia","res":270,"l2":5.0,"lo":4.93,"hi":5.07},{"grp":"Australia","res":427,"l2":5.25,"lo":5.17,"hi":5.33},{"grp":"Australia","res":813,"l2":5.45,"lo":5.35,"hi":5.55},{"grp":"Australia","res":1200,"l2":5.4,"lo":5.29,"hi":5.51},{"grp":"Australia","res":2000,"l2":5.13,"lo":5.01,"hi":5.25},{"grp":"Australia","res":3300,"l2":4.7,"lo":4.55,"hi":4.85},{"grp":"Australia","res":5400,"l2":4.15,"lo":3.93,"hi":4.37},
{"grp":"Brazil","res":2.9,"l2":2.18,"lo":2.02,"hi":2.34},{"grp":"Brazil","res":6.5,"l2":2.79,"lo":2.68,"hi":2.9},{"grp":"Brazil","res":17.8,"l2":3.4,"lo":3.32,"hi":3.48},{"grp":"Brazil","res":49,"l2":3.84,"lo":3.77,"hi":3.91},{"grp":"Brazil","res":135,"l2":4.19,"lo":4.12,"hi":4.26},{"grp":"Brazil","res":380,"l2":4.72,"lo":4.64,"hi":4.8},{"grp":"Brazil","res":1050,"l2":5.16,"lo":5.07,"hi":5.25},{"grp":"Brazil","res":2240,"l2":5.28,"lo":5.15,"hi":5.41},{"grp":"Brazil","res":4900,"l2":5.25,"lo":5.05,"hi":5.45},{"grp":"Brazil","res":8100,"l2":5.07,"lo":4.8,"hi":5.34},{"grp":"Brazil","res":13000,"l2":4.63,"lo":4.28,"hi":4.98},
{"grp":"Egypt","res":4.0,"l2":2.32,"lo":1.97,"hi":2.67},{"grp":"Egypt","res":9.1,"l2":2.61,"lo":2.36,"hi":2.86},{"grp":"Egypt","res":25,"l2":3.14,"lo":2.98,"hi":3.3},{"grp":"Egypt","res":55,"l2":3.67,"lo":3.54,"hi":3.8},{"grp":"Egypt","res":118,"l2":4.54,"lo":4.41,"hi":4.67},{"grp":"Egypt","res":200,"l2":5.07,"lo":4.94,"hi":5.2},{"grp":"Egypt","res":430,"l2":5.51,"lo":5.36,"hi":5.66},{"grp":"Egypt","res":810,"l2":5.68,"lo":5.48,"hi":5.88},{"grp":"Egypt","res":1550,"l2":5.72,"lo":5.42,"hi":6.02}
],
"caption": [
{"line":1,"fig":"Fig. 5.","txt":"Size of organization embedding vectors captures prestige and size of organizations. (A) Size (L2 norm) of organization embedding vectors compared to"},
{"line":2,"txt":"the number of researchers for U.S. universities. Color indicates the rank of the university from the Times ranking, with 1 being the highest-ranked university."},
{"line":3,"txt":"Uncolored points are universities not listed on the Times ranking. A concave shape emerges, wherein larger universities tend to be more distant from the origin"}
]
},
"layer": [
{
"data": {"name": "ptsA"},
"encoding": {
"x": {"field": "res", "type": "quantitative", "title": "# Researchers", "scale": {"type": "log", "domain": [2.96, 27900], "range": [153.8, 824.8], "nice": false},
 "axis": {"orient": "bottom", "offset": -145.5, "values": [3,4,5,6,7,8,9,10,20,30,40,50,60,70,80,90,100,200,300,400,500,600,700,800,900,1000,2000,3000,4000,5000,6000,7000,8000,9000,10000,20000], "labelExpr": "datum.value == 10 ? '10¹' : datum.value == 100 ? '10²' : datum.value == 1000 ? '10³' : datum.value == 10000 ? '10⁴' : ''", "tickSize": {"condition": [{"test": "indexof([10,100,1000,10000], datum.value) >= 0", "value": -14}, {"test": "indexof([5,50,500,5000,50000], datum.value) >= 0", "value": -9}], "value": -5}, "tickColor": "#333333", "tickWidth": 1.2, "domainColor": "#333333", "domainWidth": 1.2, "labelFontSize": 17, "labelColor": "#4d4d4d", "labelPadding": 26, "labelFlush": false, "labelOverlap": false, "labelBound": false, "titleFontSize": 24, "titleFontWeight": "bold", "titleColor": "black", "titlePadding": -1}},
"y": {"field": "l2", "type": "quantitative", "title": "L2 Norm", "scale": {"domain": [-0.35, 7.35], "range": [749.5, 91.4], "nice": false, "zero": false},
 "axis": {"orient": "left", "offset": -153.8, "values": [2, 4, 6], "ticks": false, "domainColor": "#333333", "domainWidth": 1.2, "labelFontSize": 17, "labelColor": "#4d4d4d", "labelPadding": 8, "titleFontSize": 24, "titleFontWeight": "bold", "titleColor": "black", "titlePadding": 6}}
},
"layer": [
{"transform": [{"filter": "datum.rank == null"}], "mark": {"type": "point", "shape": "circle", "filled": false, "stroke": "#6e6e6e", "strokeWidth": 1.1, "size": 42, "opacity": 1}},
{"transform": [{"filter": "datum.rank != null"}], "mark": {"type": "circle", "size": 52, "opacity": 1},
 "encoding": {"color": {"field": "rank", "type": "quantitative", "scale": {"scheme": {"name": "plasma", "extent": [1, 0]}, "domain": [145, 1]},
  "legend": {"orient": "none", "legendX": 160, "legendY": 91.4, "direction": "vertical", "title": "Times Rank", "titleFontSize": 20, "titleFontWeight": "bold", "titleColor": "black", "titlePadding": 8, "gradientLength": 147, "gradientThickness": 30, "gradientStrokeWidth": 0, "labelFontSize": 19, "labelColor": "black", "labelOffset": 9, "values": [1, 50, 100], "padding": 10, "strokeColor": "#b8b8b8", "fillColor": "white"}}}},
{"data": {"name": "labA"}, "transform": [{"filter": "datum.id == 'ny'"}], "mark": {"type": "rect", "width": 160, "height": 25, "align": "center", "baseline": "middle", "fill": "white", "stroke": "#333333", "strokeWidth": 1, "cornerRadius": 4}},
{"data": {"name": "labA"}, "transform": [{"filter": "datum.id == 'ut'"}], "mark": {"type": "rect", "width": 132, "height": 48, "align": "center", "baseline": "middle", "fill": "white", "stroke": "#333333", "strokeWidth": 1, "cornerRadius": 4}},
{"data": {"name": "labA"}, "transform": [{"filter": "datum.id == 'um'"}], "mark": {"type": "rect", "width": 118, "height": 47, "align": "center", "baseline": "middle", "fill": "white", "stroke": "#333333", "strokeWidth": 1, "cornerRadius": 4}},
{"data": {"name": "labA"}, "transform": [{"filter": "datum.id == 'pr'"}], "mark": {"type": "rect", "width": 84, "height": 25, "align": "center", "baseline": "middle", "fill": "white", "stroke": "#333333", "strokeWidth": 1, "cornerRadius": 4}},
{"data": {"name": "labA"}, "transform": [{"filter": "datum.id == 'hv'"}], "mark": {"type": "rect", "width": 73, "height": 25, "align": "center", "baseline": "middle", "fill": "white", "stroke": "#333333", "strokeWidth": 1, "cornerRadius": 4}},
{"data": {"name": "labA"}, "transform": [{"filter": "datum.id == 'ba'"}], "mark": {"type": "rect", "width": 130, "height": 25, "align": "center", "baseline": "middle", "fill": "white", "stroke": "#333333", "strokeWidth": 1, "cornerRadius": 4}},
{"data": {"name": "labA"}, "transform": [{"filter": "datum.id == 'ua'"}], "mark": {"type": "rect", "width": 102, "height": 49, "align": "center", "baseline": "middle", "fill": "white", "stroke": "#333333", "strokeWidth": 1, "cornerRadius": 4}},
{"data": {"name": "labA"}, "transform": [{"filter": "datum.id == 'ny' || datum.id == 'pr' || datum.id == 'hv' || datum.id == 'ba'"}], "mark": {"type": "text", "fontSize": 17, "align": "center", "baseline": "middle", "color": "black"}, "encoding": {"text": {"field": "name"}}},
{"data": {"name": "labA"}, "transform": [{"filter": "datum.id == 'ut' || datum.id == 'um' || datum.id == 'ua'"}], "mark": {"type": "text", "fontSize": 17, "lineBreak": "\n", "lineHeight": 23, "dy": -11.5, "align": "center", "baseline": "middle", "color": "black"}, "encoding": {"text": {"field": "name"}}},
{"data": {"values": [{"res": 1.46, "l2": 7.11, "t": "A"}]}, "mark": {"type": "text", "fontSize": 40, "align": "center", "baseline": "middle", "color": "black"}, "encoding": {"text": {"field": "t"}}},
{"data": {"values": [{"res": 0.41, "l2": -1.97, "t": "22.238.28."}]}, "mark": {"type": "text", "angle": 270, "align": "left", "baseline": "alphabetic", "fontSize": 17, "color": "black"}, "encoding": {"text": {"field": "t"}}}
]
},
{
"layer": [
{
"encoding": {
"x": {"field": "res", "type": "quantitative", "title": "# Researchers", "scale": {"type": "log", "domain": [1.45, 82000], "range": [920.5, 1591.5], "nice": false},
 "axis": {"orient": "bottom", "offset": -145.5, "values": [2,3,4,5,6,7,8,9,10,20,30,40,50,60,70,80,90,100,200,300,400,500,600,700,800,900,1000,2000,3000,4000,5000,6000,7000,8000,9000,10000,20000,30000,40000,50000,60000,70000,80000], "labelExpr": "datum.value == 10 ? '10¹' : datum.value == 100 ? '10²' : datum.value == 1000 ? '10³' : datum.value == 10000 ? '10⁴' : ''", "tickSize": {"condition": [{"test": "indexof([10,100,1000,10000], datum.value) >= 0", "value": -14}, {"test": "indexof([5,50,500,5000,50000], datum.value) >= 0", "value": -9}], "value": -5}, "tickColor": "#333333", "tickWidth": 1.2, "domainColor": "#333333", "domainWidth": 1.2, "labelFontSize": 17, "labelColor": "#4d4d4d", "labelPadding": 26, "labelFlush": false, "labelOverlap": false, "labelBound": false, "titleFontSize": 24, "titleFontWeight": "bold", "titleColor": "black", "titlePadding": -1}},
"y": {"field": "l2", "type": "quantitative", "title": "L2 Norm", "scale": {"domain": [-0.35, 7.35], "range": [749.5, 91.4], "nice": false, "zero": false},
 "axis": {"orient": "left", "offset": -920.5, "values": [2, 4, 6], "ticks": false, "domainColor": "#333333", "domainWidth": 1.2, "labelFontSize": 17, "labelColor": "#4d4d4d", "labelPadding": 8, "titleFontSize": 24, "titleFontWeight": "bold", "titleColor": "black", "titlePadding": 6}}
},
"layer": [
{"data": {"name": "ptsB"}, "transform": [{"filter": "datum.grp == 'OT'"}], "mark": {"type": "point", "shape": "circle", "filled": false, "stroke": "#9a9a9a", "strokeOpacity": 0.5, "strokeWidth": 1, "size": 42}},
{"data": {"name": "ptsB"}, "transform": [{"filter": "datum.grp == 'US'"}], "mark": {"type": "circle", "fill": "#d95f02", "opacity": 0.35, "size": 42}},
{"data": {"name": "ptsB"}, "transform": [{"filter": "datum.grp == 'CN'"}], "mark": {"type": "circle", "fill": "#2c7bb6", "opacity": 0.3, "size": 42}},
{"data": {"name": "curves"}, "transform": [{"filter": {"field": "grp", "oneOf": ["United States", "China", "Other"]}}], "mark": {"type": "area", "opacity": 0.65, "interpolate": "monotone"},
 "encoding": {"y": {"field": "lo", "type": "quantitative", "title": "L2 Norm"}, "y2": {"field": "hi"},
  "fill": {"field": "grp", "type": "nominal", "scale": {"domain": ["United States", "China", "Other"], "range": ["#d95f02", "#2c7bb6", "#bdbdbd"]},
   "legend": {"orient": "none", "legendX": 927, "legendY": 91.4, "title": " ", "titleFontSize": 8, "titlePadding": 2, "symbolType": "square", "symbolSize": 841, "symbolStrokeWidth": 0, "symbolOpacity": 0.65, "labelFontSize": 20, "labelFontWeight": "bold", "labelColor": "black", "labelOffset": 10, "padding": 10, "rowPadding": 0, "strokeColor": "#b0b0b0", "fillColor": "white"}}}},
{"data": {"name": "curves"}, "transform": [{"filter": {"field": "grp", "oneOf": ["United States", "China", "Other"]}}], "mark": {"type": "line", "strokeWidth": 4.5, "interpolate": "monotone"},
 "encoding": {
  "stroke": {"field": "grp", "type": "nominal", "sort": ["United States", "China", "Other"], "scale": {"range": ["#d95f02", "#2c7bb6", "#a6a6a6"]},
   "legend": {"orient": "none", "legendX": 927, "legendY": 91.4, "title": " ", "titleFontSize": 8, "titlePadding": 2, "symbolType": "M-0.8,0H0.8", "symbolSize": 576, "symbolStrokeWidth": 5, "symbolOpacity": 1, "labelFontSize": 20, "labelFontWeight": "bold", "labelExpr": "''", "labelOffset": 10, "padding": 10, "rowPadding": 0}},
  "strokeDash": {"field": "grp", "type": "nominal", "scale": {"domain": ["United States", "China", "Other"], "range": [[14, 9], [14, 9], [1, 0]]}, "legend": null}}},
{"data": {"values": [{"res": 0.744, "l2": 7.11, "t": "B"}]}, "mark": {"type": "text", "fontSize": 40, "align": "center", "baseline": "middle", "color": "black"}, "encoding": {"text": {"field": "t"}}}
]
},
{
"data": {"name": "curves"},
"encoding": {
"x": {"field": "res", "type": "quantitative", "title": "# Researchers", "scale": {"type": "log", "domain": [1.45, 82000], "range": [1066.7, 1219.4], "nice": false},
 "axis": {"orient": "bottom", "offset": -204.7, "zindex": 1, "domain": false, "values": [2,3,4,5,6,7,8,9,10,20,30,40,50,60,70,80,90,100,200,300,400,500,600,700,800,900,1000,2000,3000,4000,5000,6000,7000,8000,9000,10000,20000,30000,40000,50000,60000,70000,80000], "labelExpr": "datum.value == 10 ? '10¹' : datum.value == 100 ? '10²' : datum.value == 1000 ? '10³' : datum.value == 10000 ? '10⁴' : ''", "tickSize": {"condition": [{"test": "indexof([10,100,1000,10000], datum.value) >= 0", "value": -6}, {"test": "indexof([5,50,500,5000,50000], datum.value) >= 0", "value": -4}], "value": -2.5}, "tickColor": "#333333", "tickWidth": 0.8, "labelFontSize": 9, "labelColor": "#4d4d4d", "labelPadding": 12, "labelFlush": false, "labelOverlap": false, "labelBound": false, "titleFontSize": 13.5, "titleFontWeight": "bold", "titleColor": "black", "titlePadding": 1}},
"y": {"field": "l2", "type": "quantitative", "title": "L2 Norm", "scale": {"domain": [-0.35, 7.35], "range": [690.3, 545.2], "nice": false, "zero": false},
 "axis": {"orient": "left", "offset": -1066.7, "zindex": 1, "domain": false, "values": [2, 4, 6], "ticks": false, "labelFontSize": 9, "labelColor": "#4d4d4d", "labelPadding": 3, "titleFontSize": 13.5, "titleFontWeight": "bold", "titleColor": "black", "titlePadding": 5}}
},
"layer": [
{"data": {"values": [{}]}, "mark": {"type": "rect", "fill": "white", "stroke": "#9e9e9e", "strokeWidth": 1}, "encoding": {"x": {"datum": 1.45}, "x2": {"datum": 82000}, "y": {"datum": -0.35}, "y2": {"datum": 7.35}}},
{"transform": [{"filter": {"field": "grp", "oneOf": ["United States", "Australia"]}}], "mark": {"type": "area", "opacity": 0.6, "interpolate": "monotone"},
 "encoding": {"y": {"field": "lo", "type": "quantitative", "title": "L2 Norm"}, "y2": {"field": "hi"},
  "fill": {"field": "grp", "type": "nominal", "scale": {"domain": ["United States", "Australia"], "range": ["#d95f02", "#9b4fc0"]},
   "legend": {"orient": "none", "legendX": 1088.2, "legendY": 649.5, "title": null, "symbolType": "square", "symbolSize": 225, "symbolStrokeWidth": 0, "symbolOpacity": 0.6, "labelFontSize": 13.5, "labelFontWeight": "bold", "labelColor": "black", "labelOffset": 5, "padding": 0, "rowPadding": 0}}}},
{"transform": [{"filter": {"field": "grp", "oneOf": ["United States", "Australia"]}}], "mark": {"type": "line", "strokeWidth": 3, "interpolate": "monotone"},
 "encoding": {
  "stroke": {"field": "grp", "type": "nominal", "sort": ["United States", "Australia"], "scale": {"range": ["#d95f02", "#8e3fb5"]},
   "legend": {"orient": "none", "legendX": 1088.2, "legendY": 649.5, "title": null, "symbolType": "M-1,0H1", "symbolSize": 132.25, "symbolStrokeWidth": 3.5, "symbolOpacity": 1, "labelFontSize": 13.5, "labelFontWeight": "bold", "labelExpr": "''", "labelOffset": 5, "padding": 0, "rowPadding": 0}},
  "strokeDash": {"field": "grp", "type": "nominal", "scale": {"domain": ["United States", "Australia"], "range": [[7, 5], [1, 0]]}, "legend": null}}}
]
},
{
"data": {"name": "curves"},
"encoding": {
"x": {"field": "res", "type": "quantitative", "title": "# Researchers", "scale": {"type": "log", "domain": [1.45, 82000], "range": [1253.8, 1406.5], "nice": false},
 "axis": {"orient": "bottom", "offset": -204.7, "zindex": 1, "domain": false, "values": [2,3,4,5,6,7,8,9,10,20,30,40,50,60,70,80,90,100,200,300,400,500,600,700,800,900,1000,2000,3000,4000,5000,6000,7000,8000,9000,10000,20000,30000,40000,50000,60000,70000,80000], "labelExpr": "datum.value == 10 ? '10¹' : datum.value == 100 ? '10²' : datum.value == 1000 ? '10³' : datum.value == 10000 ? '10⁴' : ''", "tickSize": {"condition": [{"test": "indexof([10,100,1000,10000], datum.value) >= 0", "value": -6}, {"test": "indexof([5,50,500,5000,50000], datum.value) >= 0", "value": -4}], "value": -2.5}, "tickColor": "#333333", "tickWidth": 0.8, "labelFontSize": 9, "labelColor": "#4d4d4d", "labelPadding": 12, "labelFlush": false, "labelOverlap": false, "labelBound": false, "titleFontSize": 13.5, "titleFontWeight": "bold", "titleColor": "black", "titlePadding": 1}},
"y": {"field": "l2", "type": "quantitative", "title": "L2 Norm", "scale": {"domain": [-0.35, 7.35], "range": [690.3, 545.2], "nice": false, "zero": false},
 "axis": {"orient": "left", "offset": -1253.8, "zindex": 1, "domain": false, "values": [2, 4, 6], "ticks": false, "labelFontSize": 9, "labelColor": "#4d4d4d", "labelPadding": 3, "titleFontSize": 13.5, "titleFontWeight": "bold", "titleColor": "black", "titlePadding": 5}}
},
"layer": [
{"data": {"values": [{}]}, "mark": {"type": "rect", "fill": "white", "stroke": "#9e9e9e", "strokeWidth": 1}, "encoding": {"x": {"datum": 1.45}, "x2": {"datum": 82000}, "y": {"datum": -0.35}, "y2": {"datum": 7.35}}},
{"transform": [{"filter": {"field": "grp", "oneOf": ["United States", "Brazil"]}}], "mark": {"type": "area", "opacity": 0.6, "interpolate": "monotone"},
 "encoding": {"y": {"field": "lo", "type": "quantitative", "title": "L2 Norm"}, "y2": {"field": "hi"},
  "fill": {"field": "grp", "type": "nominal", "scale": {"domain": ["United States", "Brazil"], "range": ["#d95f02", "#2eaa62"]},
   "legend": {"orient": "none", "legendX": 1275.3, "legendY": 649.5, "title": null, "symbolType": "square", "symbolSize": 225, "symbolStrokeWidth": 0, "symbolOpacity": 0.6, "labelFontSize": 13.5, "labelFontWeight": "bold", "labelColor": "black", "labelOffset": 5, "padding": 0, "rowPadding": 0}}}},
{"transform": [{"filter": {"field": "grp", "oneOf": ["United States", "Brazil"]}}], "mark": {"type": "line", "strokeWidth": 3, "interpolate": "monotone"},
 "encoding": {
  "stroke": {"field": "grp", "type": "nominal", "sort": ["United States", "Brazil"], "scale": {"range": ["#d95f02", "#1f9e55"]},
   "legend": {"orient": "none", "legendX": 1275.3, "legendY": 649.5, "title": null, "symbolType": "M-1,0H1", "symbolSize": 132.25, "symbolStrokeWidth": 3.5, "symbolOpacity": 1, "labelFontSize": 13.5, "labelFontWeight": "bold", "labelExpr": "''", "labelOffset": 5, "padding": 0, "rowPadding": 0}},
  "strokeDash": {"field": "grp", "type": "nominal", "scale": {"domain": ["United States", "Brazil"], "range": [[7, 5], [1, 0]]}, "legend": null}}}
]
},
{
"data": {"name": "curves"},
"encoding": {
"x": {"field": "res", "type": "quantitative", "title": "# Researchers", "scale": {"type": "log", "domain": [1.45, 82000], "range": [1440.9, 1593.6], "nice": false},
 "axis": {"orient": "bottom", "offset": -204.7, "zindex": 1, "domain": false, "values": [2,3,4,5,6,7,8,9,10,20,30,40,50,60,70,80,90,100,200,300,400,500,600,700,800,900,1000,2000,3000,4000,5000,6000,7000,8000,9000,10000,20000,30000,40000,50000,60000,70000,80000], "labelExpr": "datum.value == 10 ? '10¹' : datum.value == 100 ? '10²' : datum.value == 1000 ? '10³' : datum.value == 10000 ? '10⁴' : ''", "tickSize": {"condition": [{"test": "indexof([10,100,1000,10000], datum.value) >= 0", "value": -6}, {"test": "indexof([5,50,500,5000,50000], datum.value) >= 0", "value": -4}], "value": -2.5}, "tickColor": "#333333", "tickWidth": 0.8, "labelFontSize": 9, "labelColor": "#4d4d4d", "labelPadding": 12, "labelFlush": false, "labelOverlap": false, "labelBound": false, "titleFontSize": 13.5, "titleFontWeight": "bold", "titleColor": "black", "titlePadding": 1}},
"y": {"field": "l2", "type": "quantitative", "title": "L2 Norm", "scale": {"domain": [-0.35, 7.35], "range": [690.3, 545.2], "nice": false, "zero": false},
 "axis": {"orient": "left", "offset": -1440.9, "zindex": 1, "domain": false, "values": [2, 4, 6], "ticks": false, "labelFontSize": 9, "labelColor": "#4d4d4d", "labelPadding": 3, "titleFontSize": 13.5, "titleFontWeight": "bold", "titleColor": "black", "titlePadding": 5}}
},
"layer": [
{"data": {"values": [{}]}, "mark": {"type": "rect", "fill": "white", "stroke": "#9e9e9e", "strokeWidth": 1}, "encoding": {"x": {"datum": 1.45}, "x2": {"datum": 82000}, "y": {"datum": -0.35}, "y2": {"datum": 7.35}}},
{"transform": [{"filter": {"field": "grp", "oneOf": ["United States", "Egypt"]}}], "mark": {"type": "area", "opacity": 0.65, "interpolate": "monotone"},
 "encoding": {"y": {"field": "lo", "type": "quantitative", "title": "L2 Norm"}, "y2": {"field": "hi"},
  "fill": {"field": "grp", "type": "nominal", "scale": {"domain": ["United States", "Egypt"], "range": ["#d95f02", "#3a3a3a"]},
   "legend": {"orient": "none", "legendX": 1462.4, "legendY": 649.5, "title": null, "symbolType": "square", "symbolSize": 225, "symbolStrokeWidth": 0, "symbolOpacity": 0.65, "labelFontSize": 13.5, "labelFontWeight": "bold", "labelColor": "black", "labelOffset": 5, "padding": 0, "rowPadding": 0}}}},
{"transform": [{"filter": {"field": "grp", "oneOf": ["United States", "Egypt"]}}], "mark": {"type": "line", "strokeWidth": 3, "interpolate": "monotone"},
 "encoding": {
  "stroke": {"field": "grp", "type": "nominal", "sort": ["United States", "Egypt"], "scale": {"range": ["#d95f02", "#000000"]},
   "legend": {"orient": "none", "legendX": 1462.4, "legendY": 649.5, "title": null, "symbolType": "M-1,0H1", "symbolSize": 132.25, "symbolStrokeWidth": 3.5, "symbolOpacity": 1, "labelFontSize": 13.5, "labelFontWeight": "bold", "labelExpr": "''", "labelOffset": 5, "padding": 0, "rowPadding": 0}},
  "strokeDash": {"field": "grp", "type": "nominal", "scale": {"domain": ["United States", "Egypt"], "range": [[7, 5], [1, 0]]}, "legend": null}}}
]
}
],
"resolve": {"scale": {"x": "independent", "y": "independent", "fill": "independent", "stroke": "independent", "strokeDash": "independent"}}
},
{
"data": {"name": "caption"},
"encoding": {
"x": {"datum": 0, "type": "quantitative", "scale": {"domain": [0, 1], "range": [78.5, 1607.6]}, "axis": null},
"y": {"field": "line", "type": "quantitative", "scale": {"domain": [1, 3], "range": [841, 890]}, "axis": null}
},
"layer": [
{"transform": [{"filter": "datum.line == 1"}], "mark": {"type": "text", "align": "left", "baseline": "middle", "font": "Open Sans", "fontSize": 20.7, "fontWeight": "bold", "color": "black"}, "encoding": {"text": {"field": "fig"}}},
{"transform": [{"filter": "datum.line == 1"}], "mark": {"type": "text", "align": "left", "baseline": "middle", "font": "Open Sans", "fontSize": 20.7, "dx": 80.5, "color": "black"}, "encoding": {"text": {"field": "txt"}}},
{"transform": [{"filter": "datum.line > 1"}], "mark": {"type": "text", "align": "left", "baseline": "middle", "font": "Open Sans", "fontSize": 20.7, "color": "black"}, "encoding": {"text": {"field": "txt"}}}
]
}
],
"resolve": {"scale": {"x": "independent", "y": "independent"}}
}
